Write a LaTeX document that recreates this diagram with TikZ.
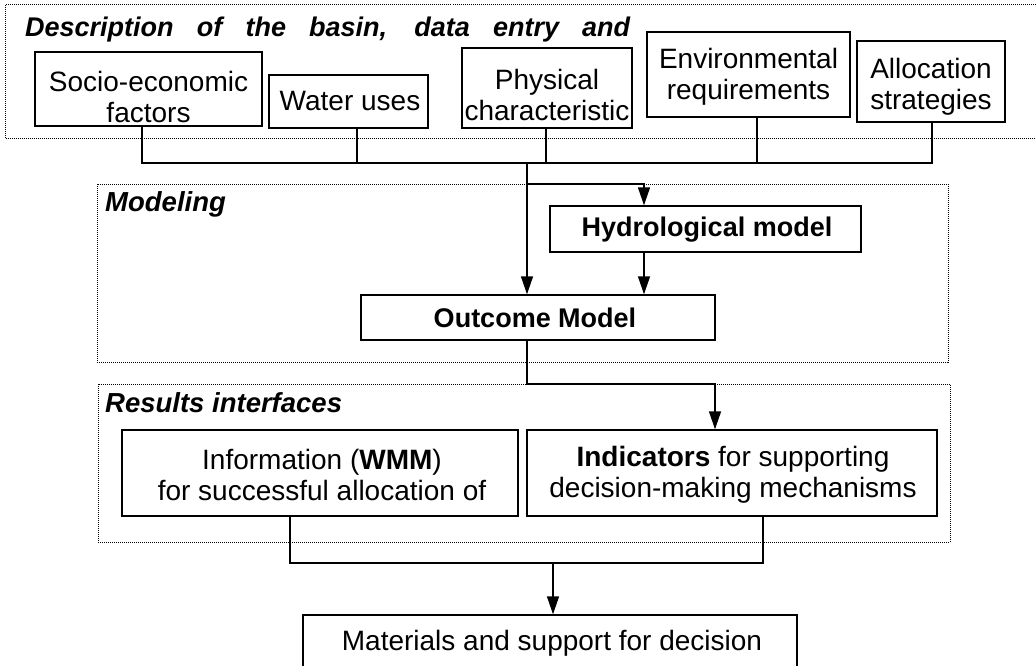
\documentclass[tikz,border=0pt]{standalone}
\usepackage{fontspec}
\setmainfont{Liberation Sans}
\usetikzlibrary{arrows.meta}
\begin{document}
\begin{tikzpicture}[x=1pt,y=-1pt,
  box/.style={draw,line width=1.4pt,inner sep=0pt},
  txt/.style={inner sep=0pt,align=center,font=\fontsize{28}{31}\selectfont},
  btxt/.style={inner sep=0pt,align=center,font=\fontsize{27}{30}\selectfont\bfseries},
  frame/.style={draw,densely dotted,line width=1pt,inner sep=0pt},
  lab/.style={font=\fontsize{27.5}{30}\selectfont\bfseries\itshape,anchor=base west,inner sep=0pt},
  conn/.style={line width=1.4pt},
  arr/.style={conn,-{Triangle[length=18pt,width=12pt]}}]
\clip (0,0) rectangle (1036,666);
\fill[white] (0,0) rectangle (1036,666);

% frames
\node[frame,minimum width=1045pt,minimum height=134pt] (f1) at (528,72) {};
\node[frame,minimum width=851pt,minimum height=178pt] (f2) at (522.5,273) {};
\node[frame,minimum width=852pt,minimum height=158pt] (f3) at (524,463) {};

% title and labels
\node[lab,font=\fontsize{27}{30}\selectfont\bfseries\itshape] (title) at (25,37) {\makebox[605pt][s]{Description of the basin, data entry and}};
\node[lab] (lmod) at (105,211) {Modeling};
\node[lab] (lres) at (105,412) {Results interfaces};

% top boxes
\node[box,minimum width=227pt,minimum height=74pt] (soc) at (148.5,89) {};
\node[txt] (soct) at (148.5,97) {Socio-economic\\factors};
\node[box,minimum width=159pt,minimum height=53pt] (water) at (348.5,101.5) {};
\node[txt] (watert) at (350,101) {Water uses};
\node[box,minimum width=170pt,minimum height=80pt] (phys) at (547,88) {};
\node[txt] (physt) at (547,95) {Physical\\characteristic};
\node[box,minimum width=203pt,minimum height=85pt] (env) at (748.5,74.5) {};
\node[txt] (envt) at (748.5,77) {Environmental\\requirements};
\node[box,minimum width=148pt,minimum height=81pt] (alloc) at (931,81.5) {};
\node[txt] (alloct) at (931,87) {Allocation\\strategies};

% modeling
\node[box,minimum width=311pt,minimum height=46pt] (hydro) at (705.5,229) {};
\node[btxt] (hydrot) at (707,230) {Hydrological model};
\node[box,minimum width=354pt,minimum height=45pt] (out) at (538,317.5) {};
\node[btxt] (outt) at (535,318) {Outcome Model};

% results
\node[box,minimum width=396pt,minimum height=86pt] (info) at (320,473) {};
\node[txt] (infot) at (322,475) {Information (\textbf{WMM})\\for successful allocation of};
\node[box,minimum width=410pt,minimum height=86pt] (ind) at (732,473) {};
\node[txt] (indt) at (733,475) {\textbf{Indicators} for supporting\\decision-making mechanisms};
\node[box,minimum width=494pt,minimum height=90pt] (mat) at (550,660) {};
\node[txt] (matt) at (552,643) {Materials and support for decision};

% connectors
\coordinate (busL) at (142,163);
\coordinate (busR) at (932,163);
\coordinate (wx) at (357,163);
\coordinate (px) at (546,163);
\coordinate (ex) at (757,163);
\coordinate (jx) at (527,163);
\coordinate (hj) at (527,184);
\coordinate (hx) at (644,184);
\draw[conn] (soc.south -| busL) -- (busL) -- (busR) -- (alloc.south -| busR);
\draw[conn] (water.south -| wx) -- (wx);
\draw[conn] (phys.south -| px) -- (px);
\draw[conn] (env.south -| ex) -- (ex);
\draw[arr] (jx) -- (out.north -| jx);
\draw[arr] (hj) -- (hx) -- (hydro.north -| hx);
\draw[arr] (hydro.south -| hx) -- (out.north -| hx);

\coordinate (oj) at (527,384);
\coordinate (ox) at (715,384);
\draw[arr] (out.south -| oj) -- (oj) -- (ox) -- (ind.north -| ox);

\coordinate (iL) at (290,563);
\coordinate (iR) at (763,563);
\coordinate (mx) at (553,563);
\draw[conn] (info.south -| iL) -- (iL) -- (iR) -- (ind.south -| iR);
\draw[arr] (mx) -- (mat.north -| mx);
\end{tikzpicture}
\end{document}
